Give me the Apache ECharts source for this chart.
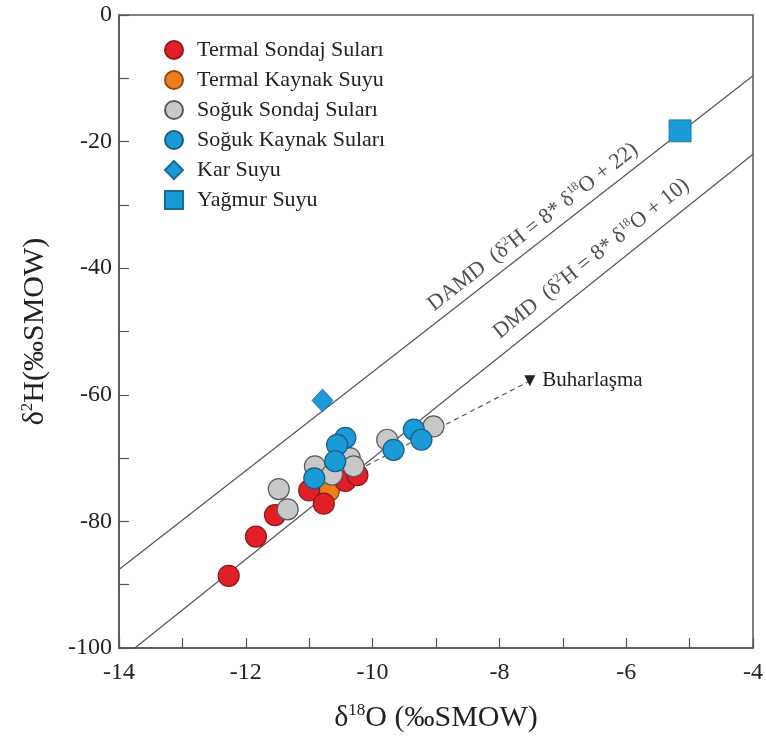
<!DOCTYPE html>
<html>
<head>
<meta charset="utf-8">
<script src="https://cdn.jsdelivr.net/npm/echarts@6/dist/echarts.min.js"></script>
<style>html,body{margin:0;padding:0;background:#fff}#c{width:766px;height:738px}</style>
</head>
<body>
<div id="c"></div>
<script>
// ---- data (δ18O, δ2H) ----
const termalSondaj = [[-12.27,-88.6],[-11.84,-82.4],[-11.54,-79.0],[-11.0,-75.1],[-10.77,-77.2],[-10.43,-73.6],[-10.24,-72.7]];
const termalKaynak = [[-10.69,-75.2]];
const sogukSondaj = [[-11.48,-74.9],[-11.34,-78.1],[-10.91,-71.3],[-10.64,-72.6],[-10.36,-70.0],[-10.30,-71.3],[-9.77,-67.1],[-9.04,-65.0]];
const sogukKaynak = [[-10.43,-66.8],[-10.56,-67.9],[-10.59,-70.5],[-10.92,-73.2],[-9.67,-68.7],[-9.35,-65.5],[-9.23,-67.1]];
const karSuyu = [[-10.79,-60.9]];
const yagmurSuyu = [[-5.15,-18.3]];
const damdLine = [[-14,-87.6],[-4,-9.6]];
const dmdLine = [[-13.75,-100],[-4,-22]];
const evapLine = [[-10.1,-71.2],[-7.52,-57.8]];
const evapHead = [[-7.52,-57.8]];
const damdLabelPos = [[-7.47,-33.5]];
const dmdLabelPos = [[-6.55,-38.5]];
const xTicks = {min:-14, max:-4, step:1};
const yTicks = {min:-100, max:0, step:10};

const FONT = 'Liberation Serif';
const TXT = '#222';
const AX = '#555';
const sup = {fontSize: 12, fontFamily: FONT, color: TXT, lineHeight: 14, verticalAlign: 'top'};

const chart = echarts.init(document.getElementById('c'), null, {renderer: 'canvas'});

function circleSeries(name, data, color, border) {
  return {
    name, type: 'scatter', data, symbol: 'circle', symbolSize: 21,
    itemStyle: {color, borderColor: border, borderWidth: 1.2, opacity: 1},
    z: 5
  };
}

chart.setOption({
  animation: false,
  backgroundColor: '#fff',
  grid: {left: 119, right: 10, top: 15, bottom: 87, show: true, borderColor: AX, borderWidth: 1.5, backgroundColor: 'transparent'},
  legend: {
    orient: 'vertical', left: 159, top: 34, itemWidth: 18, itemHeight: 18, itemGap: 8,
    textStyle: {fontFamily: FONT, fontSize: 22, color: TXT, padding: [0, 0, 0, 9]},
    data: [
      {name: 'Termal Sondaj Suları', icon: 'circle'},
      {name: 'Termal Kaynak Suyu', icon: 'circle'},
      {name: 'Soğuk Sondaj Suları', icon: 'circle'},
      {name: 'Soğuk Kaynak Suları', icon: 'circle'},
      {name: 'Kar Suyu', icon: 'diamond'},
      {name: 'Yağmur Suyu', icon: 'rect'}
    ]
  },
  xAxis: {
    type: 'value', min: xTicks.min, max: xTicks.max, interval: xTicks.step,
    axisLine: {show: true, onZero: false, lineStyle: {color: AX, width: 1.5}},
    axisTick: {show: true, inside: true, length: 10, lineStyle: {color: AX, width: 1.2}},
    axisLabel: {fontFamily: FONT, fontSize: 24, color: TXT, margin: 13,
      formatter: v => (Math.round(v) % 2 === 0 ? String(v) : '')},
    splitLine: {show: false},
    name: '{a|δ}{s|18}{a|O (‰SMOW)}', nameLocation: 'middle', nameGap: 54,
    nameTextStyle: {fontFamily: FONT, fontSize: 30, color: TXT,
      rich: {a: {fontFamily: FONT, fontSize: 30, color: TXT, lineHeight: 32}, s: {fontFamily: FONT, fontSize: 17, color: TXT, lineHeight: 17, verticalAlign: 'top'}}}
  },
  yAxis: {
    type: 'value', min: yTicks.min, max: yTicks.max, interval: yTicks.step,
    axisLine: {show: true, onZero: false, lineStyle: {color: AX, width: 1.5}},
    axisTick: {show: true, inside: true, length: 10, lineStyle: {color: AX, width: 1.2}},
    axisLabel: {fontFamily: FONT, fontSize: 24, color: TXT, margin: 7,
      formatter: v => (Math.round(v) % 20 === 0 ? String(v) : '')},
    splitLine: {show: false},
    name: '{a|δ}{s|2}{a|H(‰SMOW)}', nameLocation: 'middle', nameGap: 68,
    nameTextStyle: {fontFamily: FONT, fontSize: 30, color: TXT,
      rich: {a: {fontFamily: FONT, fontSize: 30, color: TXT, lineHeight: 32}, s: {fontFamily: FONT, fontSize: 17, color: TXT, lineHeight: 17, verticalAlign: 'top'}}}
  },
  series: [
    {name: 'DAMD', type: 'line', data: damdLine, symbol: 'none', silent: true,
      lineStyle: {color: AX, width: 1.2}, z: 2},
    {name: 'DMD', type: 'line', data: dmdLine, symbol: 'none', silent: true,
      lineStyle: {color: AX, width: 1.2}, z: 2},
    {name: 'Buhar', type: 'line', data: evapLine, symbol: 'none', silent: true,
      lineStyle: {color: AX, width: 1.2, type: [5, 4]}, z: 2},
    {name: 'BuharHead', type: 'scatter', data: evapHead, symbol: 'triangle', symbolRotate: 180, symbolSize: 11,
      itemStyle: {color: '#222', opacity: 1}, silent: true, z: 3,
      label: {show: true, position: 'right', distance: 7, formatter: 'Buharlaşma', fontFamily: FONT, fontSize: 21, color: TXT}},
    {name: 'DAMDlabel', type: 'scatter', data: damdLabelPos, symbolSize: 0, silent: true, z: 3,
      label: {show: true, position: 'inside', rotate: 37.9, align: 'center', verticalAlign: 'middle',
        formatter: '{t|DAMD  (δ}{s|2}{t|H = 8* δ}{s|18}{t|O + 22)}',
        rich: {t: {fontFamily: FONT, fontSize: 22, color: TXT, lineHeight: 24}, s: sup}}},
    {name: 'DMDlabel', type: 'scatter', data: dmdLabelPos, symbolSize: 0, silent: true, z: 3,
      label: {show: true, position: 'inside', rotate: 38.6, align: 'center', verticalAlign: 'middle',
        formatter: '{t|DMD  (δ}{s|2}{t|H = 8* δ}{s|18}{t|O + 10)}',
        rich: {t: {fontFamily: FONT, fontSize: 22, color: TXT, lineHeight: 24}, s: sup}}},
    circleSeries('Termal Kaynak Suyu', termalKaynak, '#f07d1c', '#8a4a12'),
    circleSeries('Termal Sondaj Suları', termalSondaj, '#e21f26', '#8c1a1d'),
    circleSeries('Soğuk Sondaj Suları', sogukSondaj, '#c8c8c8', '#5a5a5a'),
    circleSeries('Soğuk Kaynak Suları', sogukKaynak, '#1a9ad7', '#1b5d85'),
    {name: 'Kar Suyu', type: 'scatter', data: karSuyu, symbol: 'diamond', symbolSize: [21, 23],
      itemStyle: {color: '#1a9ad7', borderColor: '#1b6a95', borderWidth: 0.8, opacity: 1}, z: 5},
    {name: 'Yağmur Suyu', type: 'scatter', data: yagmurSuyu, symbol: 'rect', symbolSize: 22,
      itemStyle: {color: '#1a9ad7', borderColor: '#1b6a95', borderWidth: 0.8, opacity: 1}, z: 5}
  ]
});
</script>
</body>
</html>
